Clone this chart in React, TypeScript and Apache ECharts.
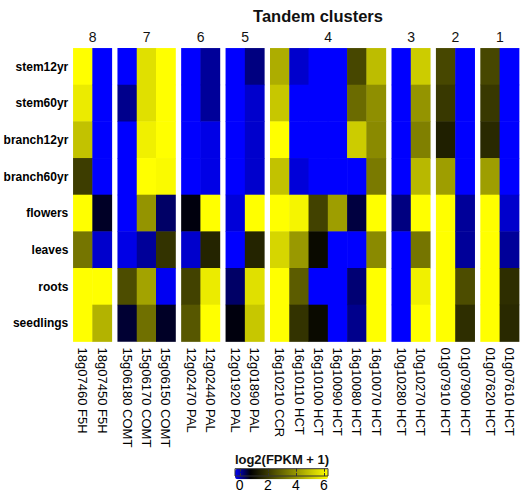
import React, { useEffect, useRef } from "react";
import * as echarts from "echarts";

const rows = ["stem12yr", "stem60yr", "branch12yr", "branch60yr", "flowers", "leaves", "roots", "seedlings"];
const clusterNames = ["8", "7", "6", "5", "4", "3", "2", "1"];

const genes8 = ["18g07460 F5H", "18g07450 F5H"];
const genes7 = ["15g06180 COMT", "15g06170 COMT", "15g06150 COMT"];
const genes6 = ["12g02470 PAL", "12g02440 PAL"];
const genes5 = ["12g01920 PAL", "12g01890 PAL"];
const genes4 = ["16g10210 CCR", "16g10110 HCT", "16g10100 HCT", "16g10090 HCT", "16g10080 HCT", "16g10070 HCT"];
const genes3 = ["10g10280 HCT", "10g10270 HCT"];
const genes2 = ["01g07910 HCT", "01g07900 HCT"];
const genes1 = ["01g07620 HCT", "01g07610 HCT"];

// values per gene, in row order (stem12yr ... seedlings), log2(FPKM + 1)
const values8 = [
  [6, 5.6, 4.8, 2.2, 6, 3.3, 6, 6],
  [0, 0, 0, 0, 0.85, 0.2, 6, 4.5],
];
const values7 = [
  [0, 0.45, 0, 0, 0, 0.1, 2.5, 0.8],
  [5.4, 5.4, 5.7, 6, 3.9, 0.4, 4.2, 3.2],
  [6, 6, 6, 5.9, 0.6, 2.0, 0.05, 0.85],
];
const values6 = [
  [0, 0, 0, 0, 0.95, 0.2, 2.3, 2.7],
  [0.4, 0.4, 0.1, 0.1, 6, 1.7, 5.6, 6],
];
const values5 = [
  [0, 0, 0, 0, 0.15, 0, 0.6, 0.95],
  [0.5, 0.2, 0.2, 0.2, 6, 1.7, 5.4, 4.9],
];
const values4 = [
  [4.4, 4.9, 6, 4.8, 6, 5.2, 6, 6],
  [0.2, 0, 0, 0.15, 5.8, 4.0, 2.8, 2.0],
  [0, 0, 0, 0, 2.3, 1.2, 0, 1.2],
  [0, 0, 0, 0, 4.1, 0, 0, 0],
  [2.4, 3.1, 5.0, 0, 0.75, 0, 0.55, 0.45],
  [4.7, 3.8, 3.7, 3.4, 6, 3.7, 6, 6],
];
const values3 = [
  [0, 0, 0, 0, 0.5, 0, 0, 0],
  [5.0, 3.9, 3.5, 4.6, 6, 3.3, 5.7, 6],
];
const values2 = [
  [2.4, 2.1, 1.6, 4.1, 6, 6, 6, 6],
  [0, 0, 0, 0, 0.4, 0.4, 2.5, 1.9],
];
const values1 = [
  [2.4, 2.1, 1.8, 4.1, 6, 6, 6, 6],
  [0, 0, 0, 0, 0.2, 0.4, 1.9, 1.8],
];

const colorbarTicks = [0, 2, 4, 6];

const clusterGenes = [genes8, genes7, genes6, genes5, genes4, genes3, genes2, genes1];
const clusterValues = [values8, values7, values6, values5, values4, values3, values2, values1];

const FONT = "Liberation Sans, Arial, Helvetica, sans-serif";

export default function App() {
  const ref = useRef<HTMLDivElement>(null);

  useEffect(() => {
    if (!ref.current) return;
    const chart = echarts.init(ref.current, null, { renderer: "svg" });

    const left0 = 73.3;
    const colW = 19.28;
    const gap = 5.85;
    const top = 48.3;
    const height = 293.3;

    const grids: any[] = [];
    const xAxes: any[] = [];
    const yAxes: any[] = [];
    const series: any[] = [];
    let x = left0;
    clusterGenes.forEach((genes, ci) => {
      const w = genes.length * colW;
      grids.push({ left: x, top, width: w, height, containLabel: false });
      x += w + gap;
      xAxes.push({
        type: "category",
        gridIndex: ci,
        data: genes,
        position: "bottom",
        axisLine: { show: false },
        axisTick: { show: false },
        splitLine: { show: false },
        axisLabel: {
          interval: 0,
          rotate: -90,
          margin: 6,
          fontSize: 13,
          color: "#000",
          fontFamily: FONT,
        },
      });
      xAxes.push({
        type: "category",
        gridIndex: ci,
        data: genes,
        position: "top",
        axisLine: { show: false },
        axisTick: { show: false },
        axisLabel: { show: false },
        name: clusterNames[ci],
        nameLocation: "middle",
        nameGap: 4,
        nameTextStyle: { fontSize: 14, color: "#111", fontFamily: FONT, verticalAlign: "bottom" },
      });
      yAxes.push({
        type: "category",
        gridIndex: ci,
        data: rows,
        inverse: true,
        show: ci === 0,
        axisLine: { show: false },
        axisTick: { show: false },
        splitLine: { show: false },
        axisLabel: {
          show: ci === 0,
          margin: 5,
          fontSize: 12,
          fontWeight: "bold",
          color: "#000",
          fontFamily: FONT,
        },
      });
      const data: any[] = [];
      clusterValues[ci].forEach((vals, gi) => {
        vals.forEach((v, ri) => data.push([gi, ri, v]));
      });
      series.push({
        type: "heatmap",
        xAxisIndex: ci * 2,
        yAxisIndex: ci,
        data,
        silent: true,
        emphasis: { disabled: true },
        itemStyle: { borderWidth: 0 },
      });
    });

    // colorbar axis grid
    const cbIndex = clusterGenes.length;
    grids.push({
      left: 235,
      top: 468.7,
      width: 93,
      height: 10.6,
      show: true,
      borderColor: "#333",
      borderWidth: 1,
      backgroundColor: "transparent",
      z: 10,
    });
    xAxes.push({
      type: "value",
      gridIndex: cbIndex,
      min: -0.34,
      max: 6.3,
      position: "bottom",
      axisLine: { show: false },
      splitLine: { show: false },
      axisTick: { show: true, inside: true, length: 3, customValues: colorbarTicks, lineStyle: { color: "#333" } },
      axisLabel: { customValues: colorbarTicks, margin: 2, fontSize: 14, color: "#000", fontFamily: FONT },
      z: 10,
    });
    xAxes.push({
      type: "value",
      gridIndex: cbIndex,
      min: -0.34,
      max: 6.3,
      position: "top",
      axisLine: { show: false },
      splitLine: { show: false },
      axisTick: { show: true, inside: true, length: 3, customValues: colorbarTicks, lineStyle: { color: "#333" } },
      axisLabel: { show: false },
      z: 10,
    });
    yAxes.push({ type: "value", gridIndex: cbIndex, show: false, min: 0, max: 1 });

    chart.setOption({
      animation: false,
      backgroundColor: "#fff",
      title: [
        {
          text: "Tandem clusters",
          left: 318,
          top: 7,
          padding: 0,
          textAlign: "center",
          textStyle: { fontSize: 16.5, fontWeight: "bold", color: "#111", fontFamily: FONT },
        },
        {
          text: "log2(FPKM + 1)",
          left: 282,
          top: 453,
          padding: 0,
          textAlign: "center",
          textStyle: { fontSize: 13, fontWeight: "bold", color: "#111", fontFamily: FONT },
        },
      ],
      grid: grids,
      xAxis: xAxes,
      yAxis: yAxes,
      visualMap: {
        type: "continuous",
        min: 0,
        max: 6,
        orient: "horizontal",
        left: 235,
        top: 468.7,
        itemWidth: 10.6,
        itemHeight: 93,
        calculable: false,
        showLabel: false,
        padding: 0,
        hoverLink: false,
        seriesIndex: series.map((_, i) => i),
        inRange: {
          color: ["#0000ff", "#000000", "#333300", "#666600", "#999900", "#cccc00", "#ffff00"],
        },
      },
      series,
    });

    return () => chart.dispose();
  }, []);

  return (
    <div
      ref={ref}
      style={{ position: "absolute", left: 0, top: 0, width: 520, height: 492 }}
    />
  );
}
